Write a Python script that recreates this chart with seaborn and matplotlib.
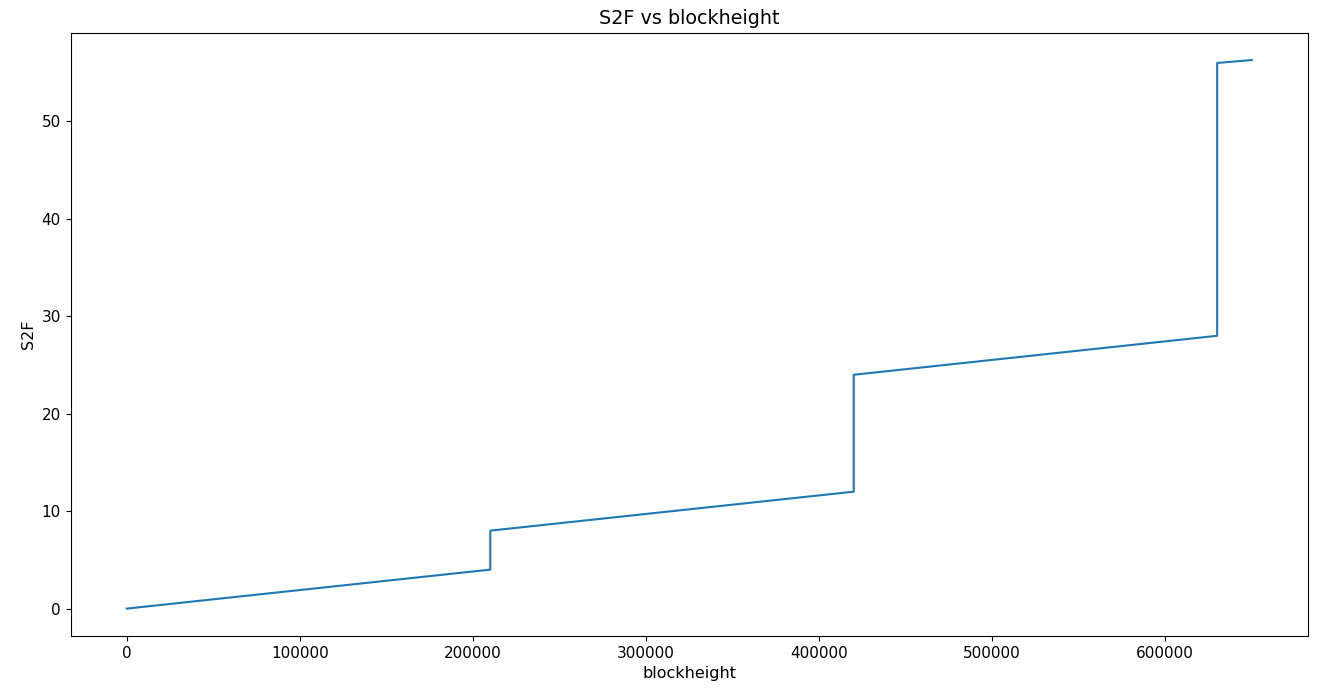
import numpy as np
import pandas as pd
import seaborn as sns
import matplotlib.pyplot as plt

# breakpoints of the S2F curve (halvings every 210000 blocks)
blockheight = [0, 210000, 210000, 420000, 420000, 630000, 630000, 650000]
s2f = [0, 4, 8, 12, 24, 28, 56, 56.3]

df = pd.DataFrame({'blockheight': blockheight, 'S2F': s2f})

fig = plt.figure(figsize=(13.32, 7), dpi=100)
ax = fig.add_axes([0.053, 0.0914, 0.929, 0.862])

sns.lineplot(x='blockheight', y='S2F', data=df, estimator=None, sort=False,
             color='#1f77b4', linewidth=1.5, ax=ax)
ax.set_title('S2F vs blockheight', fontsize=13.8)
ax.set_xlabel('blockheight', fontsize=11.5)
ax.set_ylabel('S2F', fontsize=11.5)
ax.tick_params(labelsize=11)

plt.savefig('out.png')
